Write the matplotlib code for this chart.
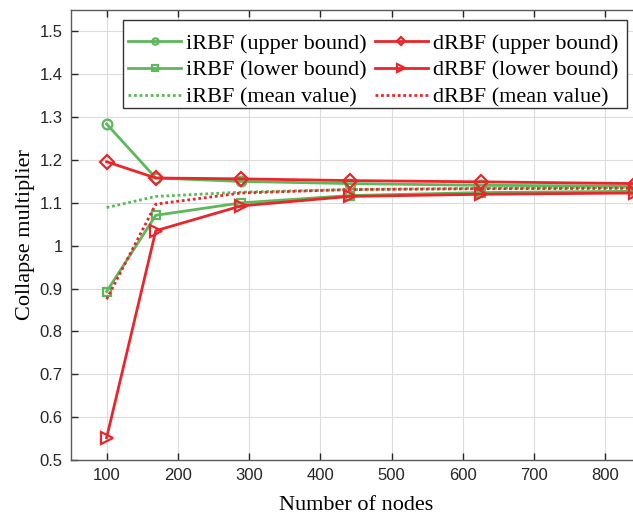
import matplotlib
matplotlib.use("Agg")
import matplotlib.pyplot as plt
from matplotlib.patches import Rectangle

nodes = [100, 169, 289, 441, 625, 841]

irbf_upper = [1.284, 1.158, 1.150, 1.145, 1.141, 1.139]
irbf_lower = [0.893, 1.071, 1.100, 1.117, 1.124, 1.127]
irbf_mean = [1.089, 1.115, 1.125, 1.131, 1.134, 1.136]

drbf_upper = [1.196, 1.158, 1.156, 1.152, 1.149, 1.145]
drbf_lower = [0.552, 1.035, 1.093, 1.115, 1.120, 1.123]
drbf_mean = [0.875, 1.097, 1.123, 1.131, 1.133, 1.134]

xticks = [100, 200, 300, 400, 500, 600, 700, 800]
yticks = [0.5, 0.6, 0.7, 0.8, 0.9, 1.0, 1.1, 1.2, 1.3, 1.4, 1.5]
ytick_labels = ["0.5", "0.6", "0.7", "0.8", "0.9", "1", "1.1", "1.2", "1.3", "1.4", "1.5"]

green = "#5cb85a"
red = "#e8262b"

W, H = 633, 516
fig = plt.figure(figsize=(W / 100, H / 100), dpi=100)
left, right, top, bottom = 71, 641, 10, 460
ax = fig.add_axes([left / W, 1 - bottom / H, (right - left) / W, (bottom - top) / H])

lw = 2.0
ms = 7
ax.plot(nodes, irbf_upper, color=green, lw=lw, marker="o", ms=ms, mfc="none", mew=1.6,
        label="iRBF (upper bound)")
ax.plot(nodes, irbf_lower, color=green, lw=lw, marker="s", ms=6, mfc="none", mew=1.6,
        label="iRBF (lower bound)")
ax.plot(nodes, irbf_mean, color=green, lw=lw, ls=(0, (1, 1)), label="iRBF (mean value)")
ax.plot(nodes, drbf_upper, color=red, lw=lw, marker="D", ms=ms, mfc="none", mew=1.6,
        label="dRBF (upper bound)")
ax.plot(nodes, drbf_lower, color=red, lw=lw, marker=">", ms=8, mfc="none", mew=1.6,
        label="dRBF (lower bound)")
ax.plot(nodes, drbf_mean, color=red, lw=lw, ls=(0, (1, 1)), label="dRBF (mean value)")

ax.set_xlim(50, 850)
ax.set_ylim(0.5, 1.55)
ax.set_xticks(xticks)
ax.set_yticks(yticks)
ax.set_yticklabels(ytick_labels)
ax.tick_params(direction="in", length=5, width=1, colors="#262626", labelsize=12,
               top=True, right=True, pad=6)
for lab in ax.get_xticklabels() + ax.get_yticklabels():
    lab.set_fontfamily("Liberation Sans")
for sp in ax.spines.values():
    sp.set_color("#5a5a5a")
    sp.set_linewidth(1.0)

ax.grid(True, color="#dcdcdc", lw=0.8)
ax.set_axisbelow(True)

ax.set_xlabel("Number of nodes", fontfamily="Liberation Serif", fontsize=16, labelpad=9)
ax.set_ylabel("Collapse multiplier", fontfamily="Liberation Serif", fontsize=16, labelpad=3)

# legend box (drawn separately so the entries can sit low in the frame)
bx0, by0, bx1, by1 = 123, 20, 627, 108
box = Rectangle((bx0 / W, 1 - by1 / H), (bx1 - bx0) / W, (by1 - by0) / H,
                transform=fig.transFigure, facecolor="white", edgecolor="#333333",
                lw=1.0, zorder=4.5, clip_on=False)
ax.add_artist(box)

leg = ax.legend(ncol=2, loc="upper left",
                bbox_to_anchor=((bx0 + 5 - left) / (right - left), 1 - (by0 + 13 - top) / (bottom - top)),
                prop={"family": "Liberation Serif", "size": 16},
                frameon=False,
                handlelength=2.4, handletextpad=0.22, columnspacing=0.35,
                labelspacing=0.29, borderpad=0, borderaxespad=0, markerscale=0.65)
leg.set_zorder(5)

fig.savefig("out.png", dpi=100)
